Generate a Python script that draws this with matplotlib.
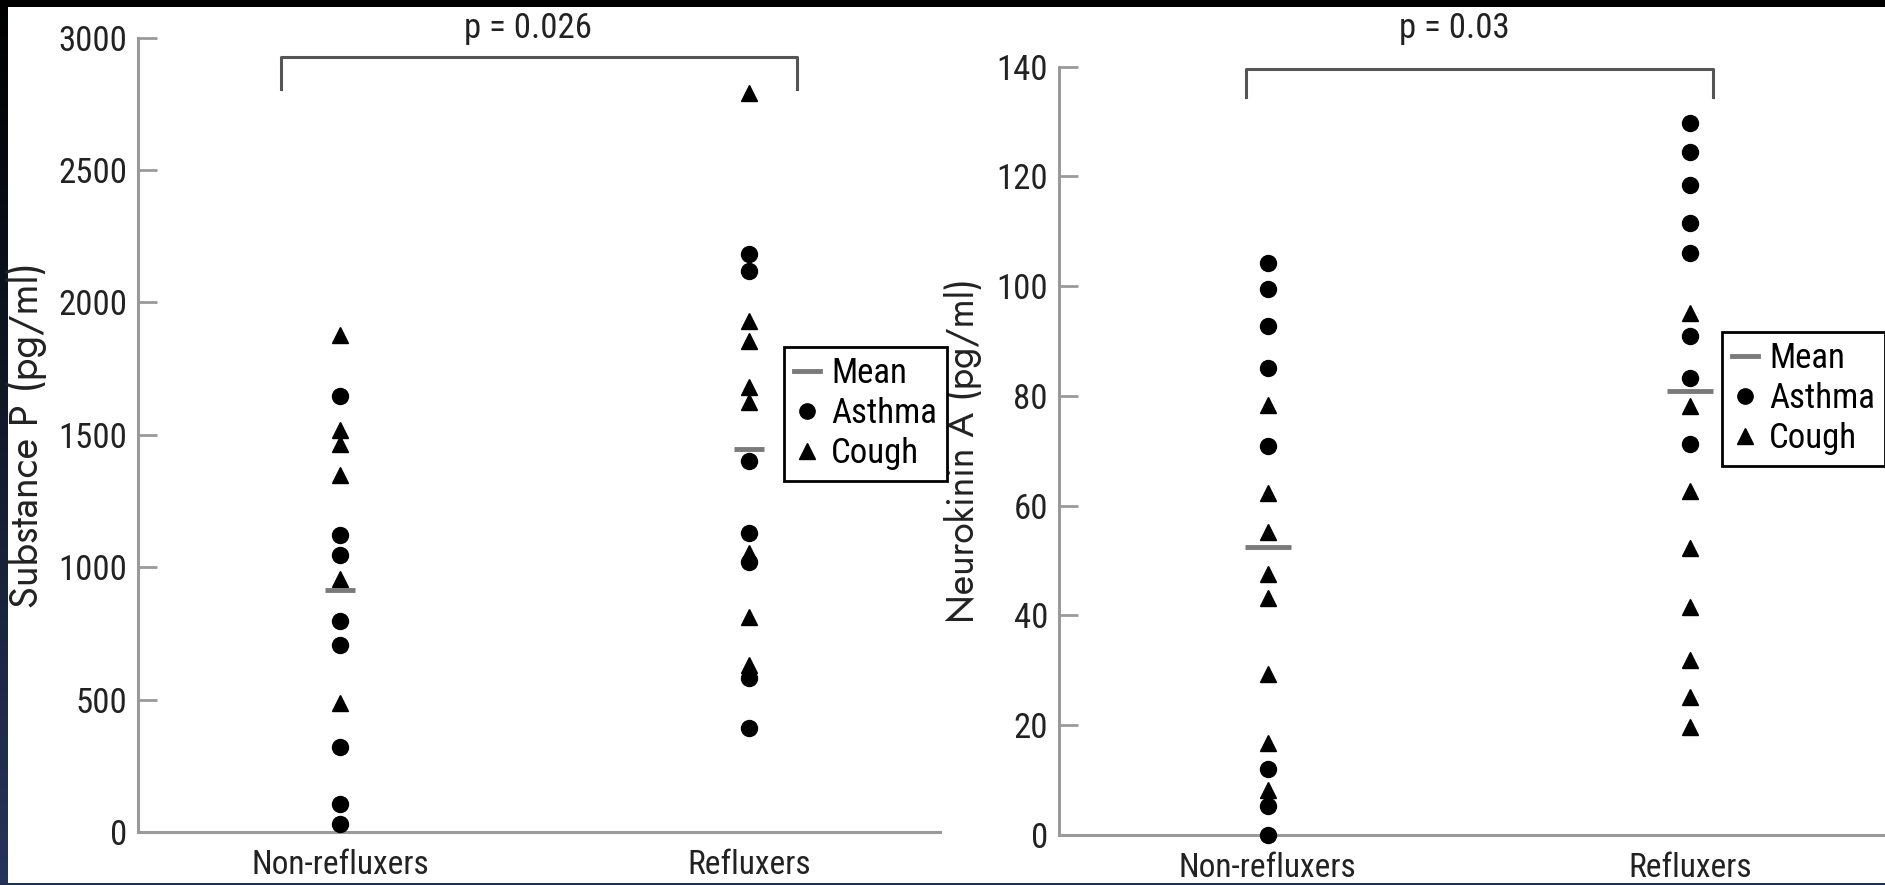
import numpy as np
import matplotlib.pyplot as plt
from matplotlib.lines import Line2D
from matplotlib.patches import Rectangle
from matplotlib import font_manager

# data
groups = ["Non-refluxers", "Refluxers"]

# Substance P (pg/ml)
sp_nonref_asthma = [1645, 1120, 1048, 798, 705, 322, 105, 30]
sp_nonref_cough = [1879, 1517, 1466, 1350, 955, 489]
sp_ref_asthma = [2184, 2120, 1403, 1130, 1020, 580, 391]
sp_ref_cough = [2790, 1931, 1856, 1680, 1623, 1052, 811, 630]
sp_means = [914, 1447]
sp_ticks = [0, 500, 1000, 1500, 2000, 2500, 3000]
sp_p = "p = 0.026"

# Neurokinin A (pg/ml)
nka_nonref_asthma = [104.3, 99.5, 92.7, 85.0, 70.9, 12.0, 5.2, 0.0]
nka_nonref_cough = [78.3, 62.4, 55.2, 47.6, 43.2, 29.3, 16.7, 8.2]
nka_ref_asthma = [129.7, 124.4, 118.4, 111.5, 106.1, 91.0, 83.3, 71.2]
nka_ref_cough = [95.1, 78.1, 62.7, 52.2, 41.6, 31.9, 25.2, 19.7]
nka_means = [52.4, 80.9]
nka_ticks = [0, 20, 40, 60, 80, 100, 120, 140]
nka_p = "p = 0.03"

# narrow face for numbers / labels, geometric face for the axis titles
names = {f.name for f in font_manager.fontManager.ttflist}
narrow = [n for n in ["Roboto Condensed", "Liberation Sans Narrow", "Archivo Narrow"]
          if n in names] + ["DejaVu Sans"]
geometric = [n for n in ["Jost", "Didact Gothic", "Questrial", "Lato"]
             if n in names] + ["DejaVu Sans"]
plt.rcParams["font.family"] = narrow

AXIS_GRAY = "#9a9a9a"
MEAN_GRAY = "#7a7a7a"
BRACKET = "#555555"

fig = plt.figure(figsize=(18.85, 8.85), dpi=100)
fig.patch.set_facecolor("white")

# dark frame of the screenshot
fig.patches.append(Rectangle((0, 1 - 7 / 885), 1, 7 / 885, transform=fig.transFigure,
                             facecolor="black", edgecolor="none", zorder=0))
fig.patches.append(Rectangle((0, 0), 1, 2 / 885, transform=fig.transFigure,
                             facecolor="#22304f", edgecolor="none", zorder=0))
strip = fig.add_axes([0, 0, 7 / 1885, 1], zorder=-1)
strip.imshow(np.linspace(0, 1, 100).reshape(-1, 1), aspect="auto",
             cmap=plt.matplotlib.colors.LinearSegmentedColormap.from_list("edge", ["#000000", "#25355a"]))
strip.axis("off")


def panel(ax, asthma0, cough0, asthma1, cough1, means, ticks, ylabel, ptext,
          bracket_x, bracket_y, p_xy, mean_w, label_x, xmax):
    ax.plot([1] * len(cough1), cough1, linestyle="none", marker="^", ms=12,
            color="black", clip_on=False, zorder=3)
    ax.plot([0] * len(cough0), cough0, linestyle="none", marker="^", ms=12,
            color="black", clip_on=False, zorder=3)
    ax.plot([0] * len(asthma0), asthma0, linestyle="none", marker="o", ms=11.5,
            color="black", clip_on=False, zorder=4)
    ax.plot([1] * len(asthma1), asthma1, linestyle="none", marker="o", ms=11.5,
            color="black", clip_on=False, zorder=4)
    ax.plot([0, 1], means, linestyle="none", marker="_", ms=mean_w, mew=3.5,
            color=MEAN_GRAY, zorder=5)

    # significance bracket
    x0, x1 = bracket_x
    ytop, ybot = bracket_y
    ax.plot([x0, x0, x1, x1], [ybot, ytop, ytop, ybot], color=BRACKET, lw=2.2,
            clip_on=False, zorder=2)
    ax.text(p_xy[0], p_xy[1], ptext, ha="center", va="center", fontsize=25,
            color="#222222", clip_on=False)

    ax.set_ylim(ticks[0], ticks[-1])
    ax.set_xlim(-0.494, xmax)
    ax.set_yticks(ticks)
    ax.set_xticks([0, 1])
    ax.set_xticklabels(groups)
    for s in ["top", "right"]:
        ax.spines[s].set_visible(False)
    for s in ["left", "bottom"]:
        ax.spines[s].set_color(AXIS_GRAY)
        ax.spines[s].set_linewidth(2.2)
    ax.tick_params(axis="y", direction="in", length=14, width=2, color=AXIS_GRAY,
                   labelsize=25, pad=8, labelcolor="#222222")
    ax.tick_params(axis="x", length=0, labelsize=24, pad=12, labelcolor="#222222")
    ax.set_ylabel(ylabel, fontsize=21, family=geometric, color="#222222")
    ax.yaxis.set_label_coords(label_x, 0.5)

    handles = [Line2D([], [], color=MEAN_GRAY, lw=3.5),
               Line2D([], [], linestyle="none", marker="o", ms=11, color="black"),
               Line2D([], [], linestyle="none", marker="^", ms=11, color="black")]
    return handles


ax1 = fig.add_axes([138 / 1885, 1 - 832 / 885, 802 / 1885, 794.3 / 885])
h = panel(ax1, sp_nonref_asthma, sp_nonref_cough, sp_ref_asthma, sp_ref_cough,
          sp_means, sp_ticks, "Substance P (pg/ml)", sp_p,
          (-0.145, 1.117), (2927, 2808), (0.46, 3033), 21, -0.114, 1.467)
leg1 = fig.legend(h, ["Mean", "Asthma", "Cough"], loc="upper left",
                  bbox_to_anchor=(784 / 1885, 1 - 347 / 885), fontsize=25,
                  frameon=True, fancybox=False, edgecolor="black", framealpha=1,
                  handlelength=0.75, handletextpad=0.3, labelspacing=0.2,
                  borderpad=0.3, borderaxespad=0)
leg1.get_frame().set_linewidth(2)

ax2 = fig.add_axes([1059 / 1885, 1 - 835 / 885, 826 / 1885, 768.4 / 885])
h = panel(ax2, nka_nonref_asthma, nka_nonref_cough, nka_ref_asthma, nka_ref_cough,
          nka_means, nka_ticks, "Neurokinin A (pg/ml)", nka_p,
          (-0.05, 1.055), (139.6, 134.5), (0.443, 147.0), 33, -0.093, 1.462)
leg2 = fig.legend(h, ["Mean", "Asthma", "Cough"], loc="upper left",
                  bbox_to_anchor=(1722 / 1885, 1 - 332 / 885), fontsize=25,
                  frameon=True, fancybox=False, edgecolor="black", framealpha=1,
                  handlelength=0.75, handletextpad=0.3, labelspacing=0.2,
                  borderpad=0.3, borderaxespad=0)
leg2.get_frame().set_linewidth(2)

# size the axis titles to the length they have in the original (~345 px)
fig.canvas.draw()
renderer = fig.canvas.get_renderer()
for ax in (ax1, ax2):
    lab = ax.yaxis.label
    length = lab.get_window_extent(renderer).height
    lab.set_fontsize(lab.get_fontsize() * 345 / length)

fig.savefig("out.png", dpi=100)
